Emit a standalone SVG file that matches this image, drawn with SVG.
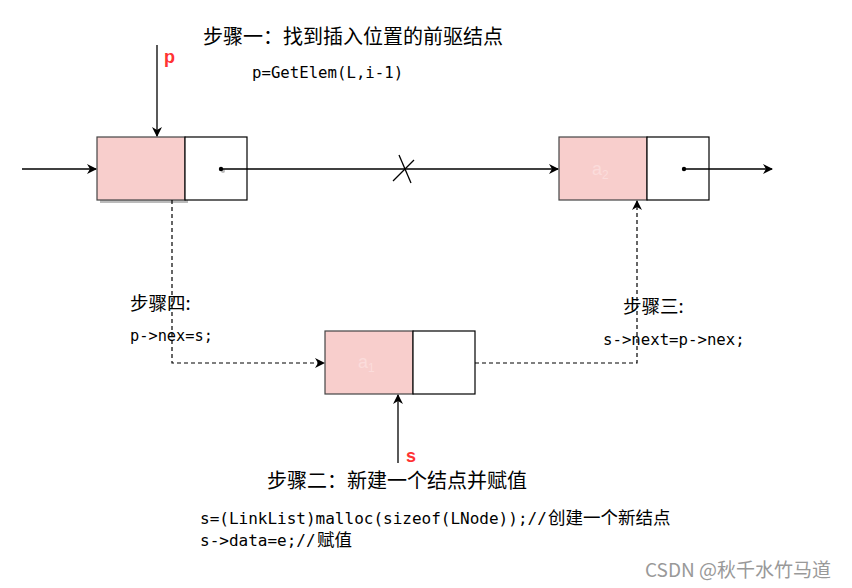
<svg xmlns="http://www.w3.org/2000/svg" width="852" height="588" viewBox="0 0 852 588">
<defs>
<marker id="ah" viewBox="0 0 10 10" refX="9" refY="5" markerWidth="10" markerHeight="10" markerUnits="userSpaceOnUse" orient="auto">
<path d="M0,0 L10,5 L0,10 L3,5 Z" fill="#000"/>
</marker>
</defs>
<style>
.data{fill:#f8cecc;stroke:#444;stroke-width:1.2}
.ptr{fill:#fff;stroke:#000;stroke-width:1.2}
.ln{stroke:#000;stroke-width:1.3;fill:none}
.dash{stroke:#000;stroke-width:1.2;fill:none;stroke-dasharray:4,3}
.cn{font-family:"Noto Sans CJK SC","Liberation Sans",sans-serif;fill:#000}
.mono{font-family:"DejaVu Sans Mono","Liberation Mono","Noto Sans CJK SC",monospace;fill:#000}
.red{font-family:"Liberation Sans",sans-serif;font-weight:bold;fill:#ff3333}
.faint{font-family:"Liberation Sans",sans-serif;fill:#fbdcdb;font-size:18px}
</style>
<rect width="852" height="588" fill="#fff"/>
<g id="node-p">
<rect x="100" y="140" width="88" height="63" fill="#bbb"/>
<rect class="data" x="97" y="137" width="88" height="63"/>
<rect class="ptr" x="185" y="137" width="62" height="63"/>
<circle cx="223" cy="171" r="2" fill="#bbb"/>
<circle cx="221" cy="169" r="2.2" fill="#000"/>
</g>
<g id="node-a2">
<rect class="data" x="559" y="137" width="88" height="63"/>
<rect class="ptr" x="647" y="137" width="62" height="63"/>
<text class="faint" x="592" y="175">a<tspan font-size="12" dy="4">2</tspan></text>
<circle cx="684" cy="169" r="2.2" fill="#000"/>
</g>
<g id="node-s">
<rect class="data" x="325" y="331" width="88" height="63"/>
<rect class="ptr" x="413" y="331" width="62" height="63"/>
<text class="faint" x="358" y="368">a<tspan font-size="12" dy="4">1</tspan></text>
</g>
<g id="connectors">
<line class="ln" x1="22" y1="169" x2="96" y2="169" marker-end="url(#ah)"/>
<line class="ln" x1="157" y1="45" x2="157" y2="136" marker-end="url(#ah)"/>
<line class="ln" x1="221" y1="169" x2="558" y2="169" marker-end="url(#ah)"/>
<line class="ln" x1="399" y1="155" x2="411" y2="183"/>
<line class="ln" x1="393" y1="181" x2="414" y2="160"/>
<line class="ln" x1="684" y1="169" x2="772" y2="169" marker-end="url(#ah)"/>
<polyline class="dash" points="172,200 172,363 324,363" marker-end="url(#ah)"/>
<polyline class="dash" points="475,363 637,363 637,201" marker-end="url(#ah)"/>
<line class="ln" x1="398" y1="463" x2="398" y2="395" stroke="#444" marker-end="url(#ah)"/>
</g>
<g id="labels">
<text class="red" x="164" y="63" font-size="18">p</text>
<text class="red" x="406" y="462" font-size="18">s</text>
<text class="cn" x="203" y="44" font-size="20">步骤一：找到插入位置的前驱结点</text>
<text class="mono" x="252" y="78" font-size="15.7">p=GetElem(L,i-1)</text>
<text class="cn" x="130" y="310" font-size="18.5">步骤四:</text>
<text class="mono" x="130" y="341" font-size="15.3">p-&gt;nex=s;</text>
<text class="cn" x="623" y="313" font-size="18.5">步骤三:</text>
<text class="mono" x="603" y="345" font-size="15.7">s-&gt;next=p-&gt;nex;</text>
<text class="cn" x="267" y="488" font-size="20">步骤二：新建一个结点并赋值</text>
<text class="mono" x="200" y="524" font-size="16">s=(LinkList)malloc(sizeof(LNode));//</text>
<text class="cn" x="548" y="524" font-size="17.5">创建一个新结点</text>
<text class="mono" x="200" y="546" font-size="16">s-&gt;data=e;//</text>
<text class="cn" x="317" y="546" font-size="17.5">赋值</text>
<text class="cn" x="645" y="577" font-size="19" style="fill:#999">CSDN @秋千水竹马道</text>
</g>
</svg>
